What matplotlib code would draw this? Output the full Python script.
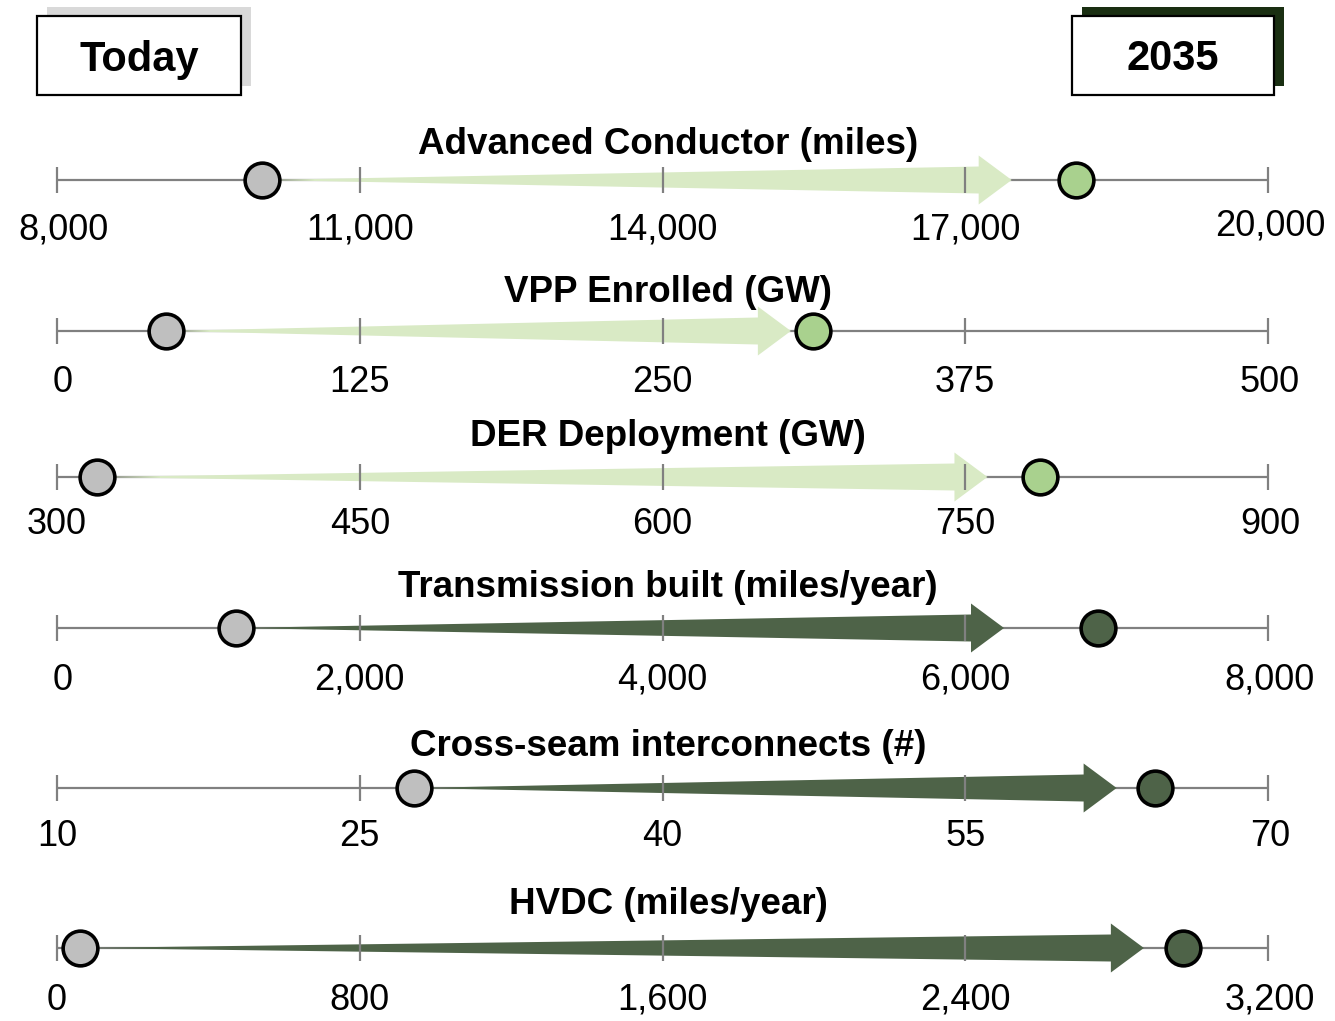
import matplotlib
matplotlib.use("Agg")
import matplotlib.pyplot as plt
from matplotlib.patches import Rectangle, Polygon

plt.rcParams['font.family'] = ['Liberation Sans', 'DejaVu Sans']

titles = ["Advanced Conductor (miles)", "VPP Enrolled (GW)", "DER Deployment (GW)",
          "Transmission built (miles/year)", "Cross-seam interconnects (#)", "HVDC (miles/year)"]
axis_min = [8000, 0, 300, 0, 10, 0]
axis_max = [20000, 500, 900, 8000, 70, 3200]
tick_values = [
    [8000, 11000, 14000, 17000, 20000],
    [0, 125, 250, 375, 500],
    [300, 450, 600, 750, 900],
    [0, 2000, 4000, 6000, 8000],
    [10, 25, 40, 55, 70],
    [0, 800, 1600, 2400, 3200],
]
tick_labels = [
    ["8,000", "11,000", "14,000", "17,000", "20,000"],
    ["0", "125", "250", "375", "500"],
    ["300", "450", "600", "750", "900"],
    ["0", "2,000", "4,000", "6,000", "8,000"],
    ["10", "25", "40", "55", "70"],
    ["0", "800", "1,600", "2,400", "3,200"],
]
today = [10030, 45, 320, 1180, 27.7, 61]
target_2035 = [18100, 312, 787, 6880, 64.4, 2975]
arrow_end = [17460, 303, 761, 6256, 62.5, 2872]

arrow_colors = ["#d9eac5", "#d9eac5", "#d9eac5", "#4e6348", "#4e6348", "#4e6348"]
dot_colors = ["#a9d18e", "#a9d18e", "#a9d18e", "#4e6348", "#4e6348", "#4e6348"]

W, H = 1335, 1021
fig = plt.figure(figsize=(W / 100, H / 100), dpi=100)

row_y = [180, 331, 477, 628, 788, 948]
title_y = [144, 293, 437, 587, 747, 904]
label_off = [50, 52, 48, 52, 48, 52]
first_shift = [6, 6, 0, 6, 0, 0]
x_left, x_right = 57, 1268
half_h = 30  # px

for i in range(6):
    yc = row_y[i]
    ax = fig.add_axes([x_left / W, (H - yc - half_h) / H, (x_right - x_left) / W, 2 * half_h / H])
    lo, hi = axis_min[i], axis_max[i]
    ax.set_xlim(lo, hi)
    ax.set_ylim(-1, 1)
    ax.axis('off')
    px = (hi - lo) / (x_right - x_left)  # data units per pixel
    ax.plot([lo, hi], [0, 0], color="#808080", lw=1.6, zorder=1, solid_capstyle='butt', clip_on=False)
    x0 = today[i]
    tip = arrow_end[i]
    xb = tip - 33 * px
    b = 13.5 / half_h
    h2 = 24.5 / half_h
    poly = Polygon([(x0, 0), (xb, b), (xb, h2), (tip, 0), (xb, -h2), (xb, -b)],
                   closed=True, facecolor=arrow_colors[i], edgecolor='none', zorder=2)
    ax.add_patch(poly)
    ax.vlines(tick_values[i], -13 / half_h, 13 / half_h, color="#808080", lw=1.6, zorder=3, clip_on=False)
    ax.plot([today[i]], [0], 'o', ms=25, mfc="#bfbfbf", mec="black", mew=2.6, zorder=5, clip_on=False)
    ax.plot([target_2035[i]], [0], 'o', ms=25, mfc=dot_colors[i], mec="black", mew=2.6, zorder=5, clip_on=False)
    for k, (tv, tl) in enumerate(zip(tick_values[i], tick_labels[i])):
        dx = first_shift[i] if k == 0 else (2 if k == 4 else 0)
        dy = label_off[i] - (4 if (i == 0 and k == 4) else 0)
        ax.annotate(tl, xy=(tv, 0), xycoords='data', xytext=(dx * 0.72, -dy * 0.72),
                    textcoords='offset points', ha='center', va='center', fontsize=26, color='black')
    fig.text(668 / W, 1 - title_y[i] / H, titles[i], ha='center', va='center',
             fontsize=26.5, fontweight='bold', color='black')

def header_box(x0, x1, y0, y1, shadow_color, text):
    sx = 10
    sy = 9
    fig.patches.append(Rectangle(((x0 + sx) / W, 1 - (y1 - sy) / H), (x1 - x0) / W, (y1 - y0) / H,
                                 transform=fig.transFigure, facecolor=shadow_color, edgecolor='none', zorder=1))
    fig.patches.append(Rectangle((x0 / W, 1 - y1 / H), (x1 - x0) / W, (y1 - y0) / H,
                                 transform=fig.transFigure, facecolor='white', edgecolor='black', lw=1.6, zorder=2))
    fig.text((x0 + x1) / 2 / W, 1 - ((y0 + y1) / 2 + 4) / H, text, ha='center', va='center',
             fontsize=30, fontweight='bold', zorder=3)

header_box(37, 241, 16, 95, "#d9d9d9", "Today")
header_box(1072, 1274, 16, 95, "#1a2f12", "2035")

fig.savefig("out.png", dpi=100)
